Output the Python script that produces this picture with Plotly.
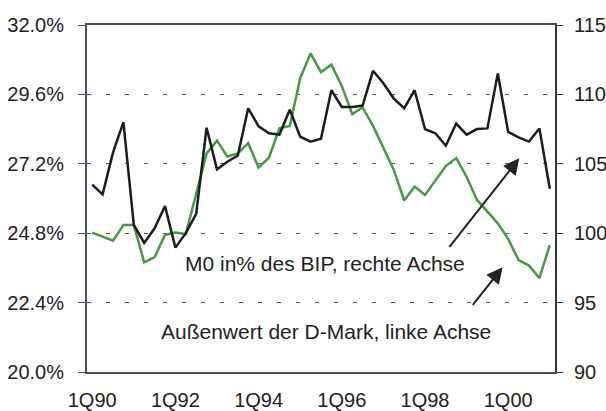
import plotly.graph_objects as go

quarters = list(range(45))
x_tick_pos = [0, 8, 16, 24, 32, 40]
x_tick_labels = ["1Q90", "1Q92", "1Q94", "1Q96", "1Q98", "1Q00"]

left_ticks = [20.0, 22.4, 24.8, 27.2, 29.6, 32.0]
left_tick_labels = ["20.0%", "22.4%", "24.8%", "27.2%", "29.6%", "32.0%"]
right_ticks = [90, 95, 100, 105, 110, 115]

# black line (right axis)
m0_values = [103.5, 102.8, 105.8, 108.0, 100.6, 99.3, 100.35, 101.96, 98.96, 100.0,
             101.4, 107.6, 104.6, 105.15, 105.6, 109.0, 107.7, 107.2, 107.1, 108.9,
             106.95, 106.6, 106.8, 110.3, 109.1, 109.1, 109.2, 111.7, 110.8, 109.7,
             109.0, 110.3, 107.5, 107.2, 106.3, 107.9, 107.1, 107.5, 107.55, 111.5,
             107.3, 106.9, 106.6, 107.55, 103.2]

# green line (left axis)
dm_values = [24.82, 24.68, 24.54, 25.08, 25.08, 23.79, 23.97, 24.74, 24.82, 24.77,
             26.12, 27.56, 28.0, 27.45, 27.56, 27.91, 27.07, 27.42, 28.43, 28.51,
             30.16, 31.02, 30.37, 30.63, 29.89, 28.92, 29.15, 28.51, 27.75, 26.99,
             25.93, 26.41, 26.12, 26.62, 27.12, 27.40, 26.75, 25.95, 25.54, 25.14,
             24.60, 23.87, 23.68, 23.25, 24.39]

label_m0 = "M0 in% des BIP, rechte Achse"
label_dm = "Außenwert der D-Mark, linke Achse"

FONT = "Liberation Sans, Arial, sans-serif"
AXIS_COL = "#4a4e60"

fig = go.Figure()
fig.add_trace(go.Scatter(x=quarters, y=dm_values, mode="lines",
                         line=dict(color="#479945", width=2.5), yaxis="y",
                         showlegend=False))
fig.add_trace(go.Scatter(x=quarters, y=m0_values, mode="lines",
                         line=dict(color="#1c1c1c", width=2.5), yaxis="y2",
                         showlegend=False))

fig.update_layout(
    width=606, height=411,
    margin=dict(l=87, r=51, t=25, b=39),
    paper_bgcolor="white", plot_bgcolor="white",
    font=dict(family=FONT, size=20, color="#222222"),
    xaxis=dict(range=[-0.5, 44.5], tickvals=x_tick_pos, ticktext=x_tick_labels,
               showgrid=False, zeroline=False, showline=True, linecolor=AXIS_COL,
               linewidth=1.5, mirror=True, ticks="", ticklabelstandoff=9,
               automargin=False, tickfont=dict(size=20)),
    yaxis=dict(range=[20, 32], tickvals=left_ticks, ticktext=left_tick_labels,
               showgrid=True, gridcolor="#555555", griddash="4px,15px", gridwidth=1,
               zeroline=False, showline=True, linecolor=AXIS_COL, linewidth=2,
               ticks="outside", ticklen=7, tickcolor=AXIS_COL, ticklabelstandoff=10,
               automargin=False, tickfont=dict(size=20)),
    yaxis2=dict(range=[90, 115], tickvals=right_ticks, overlaying="y", side="right",
                showgrid=False, zeroline=False, showline=True, linecolor="#333333",
                linewidth=2, ticks="outside", ticklen=6, tickcolor="#333333",
                ticklabelstandoff=7, automargin=False, tickfont=dict(size=20)),
)

fig.add_annotation(xref="paper", yref="paper", x=0.2051, y=0.314, text=label_m0,
                   showarrow=False, xanchor="left", yanchor="middle",
                   font=dict(size=21, family=FONT, color="#222222"))
fig.add_annotation(xref="paper", yref="paper", x=0.1538, y=0.1167, text=label_dm,
                   showarrow=False, xanchor="left", yanchor="middle",
                   font=dict(size=21, family=FONT, color="#222222"))

fig.add_annotation(xref="paper", yref="paper", x=0.9237, y=0.6159, ax=-71, ay=90,
                   text="", showarrow=True, arrowhead=2, arrowsize=1.6,
                   arrowwidth=2, arrowcolor="#222222")
fig.add_annotation(xref="paper", yref="paper", x=0.888, y=0.3017, ax=-31, ay=39,
                   text="", showarrow=True, arrowhead=2, arrowsize=1.6,
                   arrowwidth=2, arrowcolor="#222222")

fig.write_html("out.html", config={"displayModeBar": False},
               post_script="document.body.style.margin='0';document.body.style.overflow='hidden';")
